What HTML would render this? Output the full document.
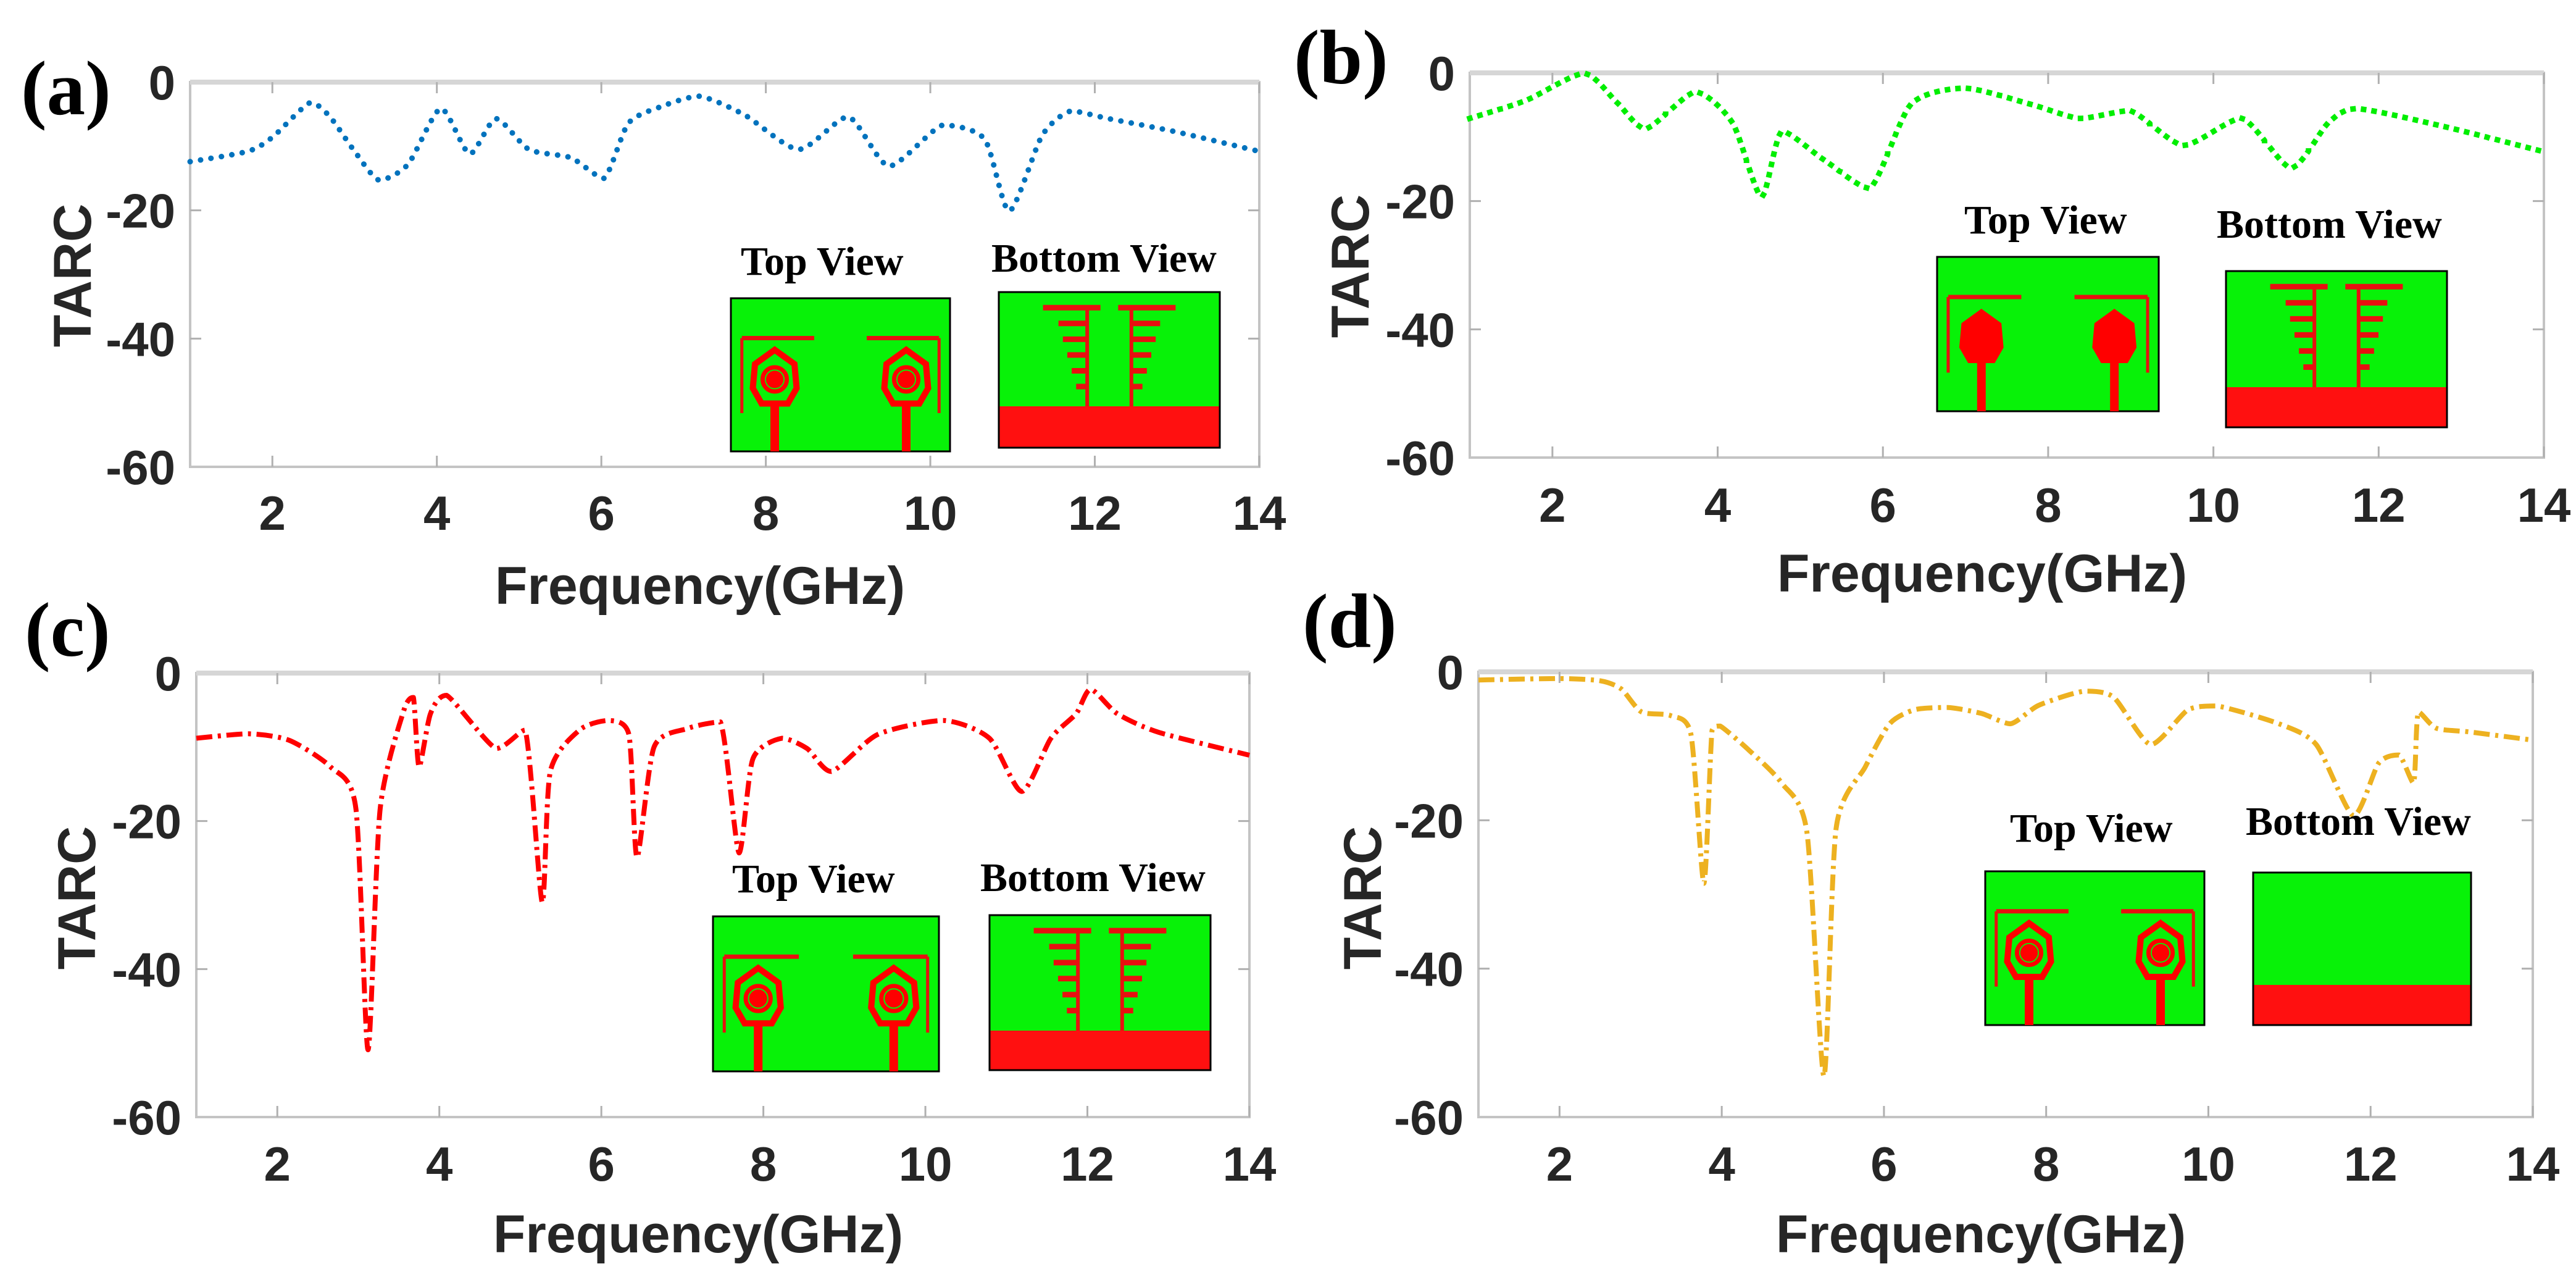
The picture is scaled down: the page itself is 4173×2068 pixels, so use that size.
<!DOCTYPE html>
<html><head><meta charset="utf-8"><style>
html,body{margin:0;padding:0;background:#fff}
svg{display:block}
.tick{font-family:"Liberation Sans",Arial,sans-serif;font-weight:bold;font-size:78px;fill:#262626}
.xl{font-family:"Liberation Sans",Arial,sans-serif;font-weight:bold;font-size:86px;fill:#262626}
.pl{font-family:"Liberation Serif","Times New Roman",serif;font-weight:bold;font-size:125px;fill:#000}
.vt{font-family:"Liberation Serif","Times New Roman",serif;font-weight:bold;font-size:66px;fill:#000}
</style></head><body>
<svg id="fig" width="4173" height="2068" viewBox="0 0 4173 2068" xmlns="http://www.w3.org/2000/svg"></svg>
<script>
const freqA=[1,1.7,2.0,2.46,2.7,3.0,3.3,3.65,4.05,4.4,4.72,5.12,5.63,6.03,6.33,6.73,7.19,7.74,8.4,9.0,9.5,10.15,10.66,10.96,11.36,11.71,12.17,12.97,14];
const tarcA=[-12.4,-10.8,-8.6,-3.2,-5.4,-10.8,-15.3,-12.8,-4.1,-11.2,-5.7,-10.5,-11.8,-15,-6.4,-3.8,-2.2,-5.1,-10.5,-5.4,-13.1,-6.7,-8.9,-20.1,-8.3,-4.5,-5.7,-7.7,-10.8];
const freqB=[1,1.68,2.38,2.78,3.13,3.73,4.18,4.53,4.78,5.28,5.84,6.34,6.99,7.79,8.39,8.99,9.64,10.34,10.94,11.39,11.74,12.8,14];
const tarcB=[-7.1,-4.3,-0.1,-4.6,-8.7,-3,-7.8,-19.3,-9.1,-13.5,-18,-4.9,-2.4,-4.9,-7.1,-5.9,-11.3,-7.1,-14.8,-7.8,-5.6,-8.4,-12.3];
const freqC=[1,1.64,2.15,2.66,2.97,3.12,3.27,3.58,3.68,3.75,3.89,4.09,4.7,5.06,5.27,5.37,5.73,6.09,6.34,6.44,6.65,7.06,7.47,7.7,7.87,8.23,8.54,8.84,9.41,10.22,10.79,11.19,11.55,11.86,12.04,12.37,12.88,14];
const tarcC=[-8.8,-8.2,-9.1,-12.7,-18.3,-50.9,-18.3,-4.4,-3.3,-12.7,-5.5,-3,-10.2,-7.7,-31,-13.3,-7.7,-6.4,-8.3,-24.9,-10,-7.5,-6.6,-24.3,-11.6,-8.8,-10.2,-13.3,-8.3,-6.4,-8.8,-16,-8.8,-5.5,-2.2,-5.5,-8,-11.1];
const freqD=[1,1.99,2.5,2.76,3.01,3.37,3.62,3.78,3.88,3.98,4.34,4.74,5.05,5.26,5.41,5.77,6.07,6.38,6.79,7.2,7.56,7.91,8.47,8.83,9.29,9.75,10.11,10.87,11.33,11.79,12.1,12.35,12.53,12.59,12.81,13.22,14];
const tarcD=[-1.1,-0.9,-1.2,-2.3,-5.4,-5.9,-8.4,-28.5,-7.9,-7.3,-10.6,-15,-21.6,-54.5,-21.1,-12.8,-7,-5.1,-4.8,-5.6,-7,-4.5,-2.6,-3.4,-9.8,-5.1,-4.6,-7,-9.8,-19.4,-12.3,-11.2,-15,-5.4,-7.6,-8.1,-9.2];
const xTicks=[2,4,6,8,10,12,14];
const yTicks=[0,-20,-40,-60];

const NS="http://www.w3.org/2000/svg";
const svg=document.getElementById('fig');
function mk(tag,attrs,parent){const e=document.createElementNS(NS,tag);for(const k in attrs)e.setAttribute(k,attrs[k]);(parent||svg).appendChild(e);return e;}

const panels=[
 {id:'a',L:308,R:2040,T:133,B:756,fx:freqA,fy:tarcA,color:'#0072BD',dash:'0.1 17',cap:'round',
  lbl:[34,185],tarc:[114,446],xtY:858,xlY:978,
  top:{tx:1200,ty:445,x:1184,y:483,w:355,h:248,solid:false},
  bot:{tx:1606,ty:440,x:1618,y:473,w:358,h:252,red:658,comb:true}},
 {id:'b',L:2381,R:4121,T:118,B:741,fx:freqB,fy:tarcB,color:'#00ee00',dash:'0.1 17',cap:'square',
  lbl:[2096,135],tarc:[2184,431],xtY:845,xlY:958,
  top:{tx:3182,ty:378,x:3138,y:416,w:359,h:250,solid:true},
  bot:{tx:3591,ty:385,x:3606,y:439,w:358,h:253,red:627,comb:true}},
 {id:'c',L:318,R:2024,T:1090,B:1809,fx:freqC,fy:tarcC,color:'#ff0000',dash:'26 9 5 9',cap:'butt',
  lbl:[40,1062],tarc:[121,1454],xtY:1912,xlY:2028,
  top:{tx:1186,ty:1445,x:1155,y:1484,w:366,h:251,solid:false},
  bot:{tx:1588,ty:1443,x:1603,y:1482,w:358,h:251,red:1669,comb:true}},
 {id:'d',L:2395,R:4103,T:1088,B:1809,fx:freqD,fy:tarcD,color:'#EDB120',dash:'26 9 5 9',cap:'butt',
  lbl:[2110,1048],tarc:[2204,1454],xtY:1912,xlY:2028,
  top:{tx:3256,ty:1363,x:3216,y:1411,w:355,h:249,solid:false},
  bot:{tx:3638,ty:1352,x:3650,y:1413,w:353,h:247,red:1595,comb:false}}
];

function crPath(pts){
  let d='M'+pts[0][0].toFixed(1)+','+pts[0][1].toFixed(1);
  for(let i=0;i<pts.length-1;i++){
    const p0=pts[Math.max(0,i-1)],p1=pts[i],p2=pts[i+1],p3=pts[Math.min(pts.length-1,i+2)];
    const t=0.12;
    let c1=[p1[0]+(p2[0]-p0[0])*t,p1[1]+(p2[1]-p0[1])*t];
    let c2=[p2[0]-(p3[0]-p1[0])*t,p2[1]-(p3[1]-p1[1])*t];
    // clamp control y to segment range to avoid overshoot
    const lo=Math.min(p1[1],p2[1]),hi=Math.max(p1[1],p2[1]);
    c1[1]=Math.min(hi,Math.max(lo,c1[1]));c2[1]=Math.min(hi,Math.max(lo,c2[1]));
    d+=' C'+c1[0].toFixed(1)+','+c1[1].toFixed(1)+' '+c2[0].toFixed(1)+','+c2[1].toFixed(1)+' '+p2[0].toFixed(1)+','+p2[1].toFixed(1);
  }
  return d;
}

panels.forEach(p=>{
  const g=mk('g',{});
  
  
  const xs=f=>p.L+(f-1)/(14-1)*(p.R-p.L);
  const ys=v=>p.T+(0-v)/60*(p.B-p.T);
  // axes box
  const box=mk('rect',{x:p.L,y:p.T,width:p.R-p.L,height:p.B-p.T,fill:'none',stroke:'#c4c4c4','stroke-width':4},g);
  
  
  mk('line',{x1:p.L,y1:p.T,x2:p.R,y2:p.T,stroke:'#d6d6d6','stroke-width':8},g);
  xTicks.forEach(t=>{
    const x=xs(t);
    mk('line',{x1:x,y1:p.B,x2:x,y2:p.B-18,stroke:'#b0b0b0','stroke-width':3},g);
    mk('line',{x1:x,y1:p.T,x2:x,y2:p.T+18,stroke:'#b0b0b0','stroke-width':3},g);
    const tl=mk('text',{x:x,y:p.xtY,'text-anchor':'middle',class:'tick'},g);
    tl.textContent=t;
    
    
  });
  yTicks.forEach(t=>{
    const y=ys(t);
    if(t!==0&&t!==-60){
      mk('line',{x1:p.L,y1:y,x2:p.L+18,y2:y,stroke:'#b0b0b0','stroke-width':3},g);
      mk('line',{x1:p.R,y1:y,x2:p.R-18,y2:y,stroke:'#b0b0b0','stroke-width':3},g);
    }
    const tl=mk('text',{x:p.L-24,y:y+28,'text-anchor':'end',class:'tick'},g);
    tl.textContent=t;
    
    
  });
  const xl=mk('text',{x:(p.L+p.R)/2-40,y:p.xlY,'text-anchor':'middle',class:'xl'},g);
  xl.textContent='Frequency(GHz)';
  
  
  const yl=mk('text',{x:0,y:0,'text-anchor':'middle',class:'xl',transform:'translate('+(p.tarc[0]+33)+','+p.tarc[1]+') rotate(-90)'},g);
  yl.textContent='TARC';
  
  
  const pl=mk('text',{x:p.lbl[0],y:p.lbl[1],class:'pl'},g);
  pl.textContent='('+p.id+')';
  
  
  // series
  const pts=p.fx.map((f,i)=>[xs(f),ys(p.fy[i])]);
  const line=mk('path',{d:crPath(pts),fill:'none',stroke:p.color,'stroke-width':p.cap==='butt'?8:9,'stroke-dasharray':p.dash,'stroke-linecap':p.cap,'stroke-linejoin':'round'},g);
  
  
  // inset top view
  const T=p.top;
  const tt=mk('text',{x:T.tx,y:T.ty,class:'vt'},g);
  tt.textContent='Top View';
  
  
  const tg=mk('g',{},g);
  
  
  mk('rect',{x:T.x,y:T.y,width:T.w,height:T.h,fill:'#08f208',stroke:'#000','stroke-width':3},tg);
  [0.2,0.8].forEach((cx,k)=>{
    const X=T.x+cx*T.w, Y=T.y+0.53*T.h, r=T.w*0.1;
    // bracket
    const bx=k===0?T.x+0.05*T.w:T.x+0.95*T.w, bx2=k===0?T.x+0.38*T.w:T.x+0.62*T.w;
    mk('line',{x1:bx,y1:T.y+0.26*T.h,x2:bx2,y2:T.y+0.26*T.h,stroke:'#e81010','stroke-width':7},tg);
    mk('line',{x1:bx,y1:T.y+0.26*T.h,x2:bx,y2:T.y+0.75*T.h,stroke:'#e81010','stroke-width':5},tg);
    mk('rect',{x:X-7,y:Y+r,width:14,height:T.y+T.h-Y-r,fill:'#ff0000'},tg);
    const hex=[[0,-1.35],[0.9,-0.7],[1,0.4],[0.6,1.1],[-0.6,1.1],[-1,0.4],[-0.9,-0.7]].map(q=>(X+q[0]*r)+','+(Y+q[1]*r)).join(' ');
    if(T.solid){mk('polygon',{points:hex,fill:'#ff0000'},tg);}
    else{
      mk('polygon',{points:hex,fill:'none',stroke:'#ff0000','stroke-width':10},tg);
      mk('circle',{cx:X,cy:Y,r:r*0.55,fill:'none',stroke:'#ff0000','stroke-width':7},tg);
      mk('circle',{cx:X,cy:Y,r:r*0.4,fill:'#ff0000'},tg);
    }
  });
  // inset bottom view
  const Bv=p.bot;
  const bt=mk('text',{x:Bv.tx,y:Bv.ty,class:'vt'},g);
  bt.textContent='Bottom View';
  
  
  const bg=mk('g',{},g);
  
  
  mk('rect',{x:Bv.x,y:Bv.y,width:Bv.w,height:Bv.h,fill:'#08f208'},bg);
  mk('rect',{x:Bv.x,y:Bv.red,width:Bv.w,height:Bv.y+Bv.h-Bv.red,fill:'#ff1010'},bg);
  if(Bv.comb){
    [[0.4,-1],[0.6,1]].forEach(([cx,dir])=>{
      const X=Bv.x+cx*Bv.w, y0=Bv.y+0.1*Bv.h;
      mk('line',{x1:X,y1:y0,x2:X,y2:Bv.red,stroke:'#e81010','stroke-width':6},bg);
      const lens=[0.2,0.13,0.11,0.09,0.07,0.05];
      lens.forEach((L,i)=>{
        const y=y0+i*(Bv.red-y0)*0.16;
        const x1=i===0?X-dir*0.06*Bv.w:X;
        mk('line',{x1:x1,y1:y,x2:X+dir*L*Bv.w,y2:y,stroke:'#e81010','stroke-width':9},bg);
      });
    });
  }
  mk('rect',{x:Bv.x,y:Bv.y,width:Bv.w,height:Bv.h,fill:'none',stroke:'#000','stroke-width':3},bg);
});
</script>
</body></html>
